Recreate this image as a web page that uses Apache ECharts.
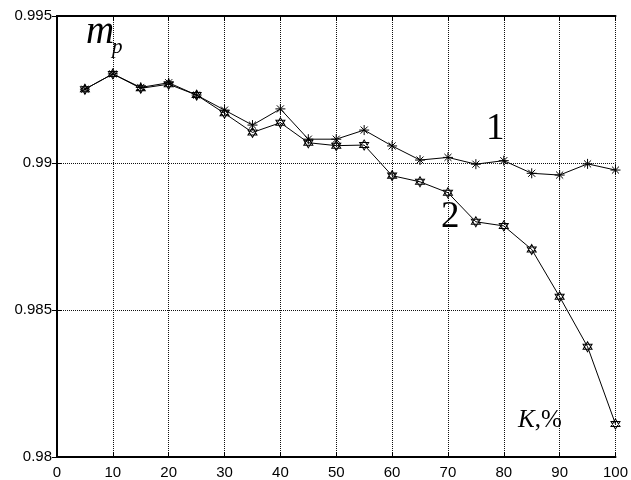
<!DOCTYPE html>
<html>
<head>
<meta charset="utf-8">
<script src="https://cdn.jsdelivr.net/npm/echarts@6/dist/echarts.min.js"></script>
<style>
  html, body { margin: 0; padding: 0; background: #fff; }
  #chart { width: 631px; height: 480px; }
</style>
</head>
<body>
<div id="chart"></div>
<script>
// Load share K (%) on the horizontal axis
const kPercent = [5, 10, 15, 20, 25, 30, 35, 40, 45, 50, 55, 60, 65, 70, 75, 80, 85, 90, 95, 100];

// Curve 1 (asterisk markers)
const curve1 = [0.99251, 0.99303, 0.99257, 0.99273, 0.99231, 0.99180, 0.99129, 0.99184, 0.99081, 0.99081,
                0.99112, 0.99058, 0.99010, 0.99019, 0.98996, 0.99008, 0.98965, 0.98959, 0.98997, 0.98976];

// Curve 2 (hexagram markers)
const curve2 = [0.99251, 0.99303, 0.99254, 0.99268, 0.99231, 0.99169, 0.99104, 0.99137, 0.99069, 0.99059,
                0.99061, 0.98957, 0.98936, 0.98899, 0.98800, 0.98786, 0.98706, 0.98545, 0.98375, 0.98112];

const xTicks = [0, 10, 20, 30, 40, 50, 60, 70, 80, 90, 100];
const yTicks = [0.98, 0.985, 0.99, 0.995];

const asterisk = 'path://M0,-10L0,10M-10,0L10,0M-7.07,-7.07L7.07,7.07M-7.07,7.07L7.07,-7.07';
const hexagram = 'path://M0,-10L8.66,5L-8.66,5ZM0,10L8.66,-5L-8.66,-5Z';

const tickFont = { fontFamily: 'Liberation Sans, Arial, sans-serif', fontSize: 15, color: '#000' };
const gridLine = { show: true, lineStyle: { color: '#111', width: 1, type: [1, 1] } };

const chart = echarts.init(document.getElementById('chart'), null, { renderer: 'canvas' });

chart.setOption({
  backgroundColor: '#fff',
  animation: false,
  grid: { left: 57, right: 14, top: 16, bottom: 23, show: false },
  xAxis: [
    {
      type: 'value', min: 0, max: 100, interval: 10, position: 'bottom',
      axisLine: { show: true, lineStyle: { color: '#000', width: 2 } },
      axisTick: { show: true, inside: true, length: 5, lineStyle: { color: '#000' } },
      axisLabel: Object.assign({ margin: 8, formatter: v => xTicks.includes(v) ? String(v) : '' }, tickFont),
      splitLine: gridLine
    },
    {
      type: 'value', min: 0, max: 100, interval: 10, position: 'top',
      axisLine: { show: true, lineStyle: { color: '#000', width: 2 } },
      axisTick: { show: true, inside: true, length: 5, lineStyle: { color: '#000' } },
      axisLabel: { show: false },
      splitLine: { show: false }
    }
  ],
  yAxis: [
    {
      type: 'value', min: 0.98, max: 0.995, interval: 0.005, position: 'left',
      axisLine: { show: true, lineStyle: { color: '#000', width: 2 } },
      axisTick: { show: true, inside: true, length: 5, lineStyle: { color: '#000' } },
      axisLabel: Object.assign({
        margin: 5,
        formatter: v => {
          const t = yTicks.find(y => Math.abs(y - v) < 1e-9);
          return t === undefined ? '' : String(t);
        }
      }, tickFont),
      splitLine: gridLine
    },
    {
      type: 'value', min: 0.98, max: 0.995, interval: 0.005, position: 'right',
      axisLine: { show: true, lineStyle: { color: '#000', width: 2 } },
      axisTick: { show: true, inside: true, length: 5, lineStyle: { color: '#000' } },
      axisLabel: { show: false },
      splitLine: { show: false }
    }
  ],
  series: [
    {
      name: '2', type: 'line', z: 3,
      data: kPercent.map((k, i) => [k, curve2[i]]),
      symbol: hexagram, symbolSize: [9, 10],
      lineStyle: { color: '#000', width: 1 },
      itemStyle: { color: '#fff', borderColor: '#000', borderWidth: 1 }
    },
    {
      name: '1', type: 'line', z: 4,
      data: kPercent.map((k, i) => [k, curve1[i]]),
      symbol: asterisk, symbolSize: [10, 10],
      lineStyle: { color: '#000', width: 1 },
      itemStyle: { color: 'none', borderColor: '#000', borderWidth: 1 }
    }
  ],
  graphic: [
    { type: 'text', left: 86, top: 13, z: 10,
      style: { text: 'm', font: 'italic 39px "Liberation Serif", "Times New Roman", serif', fill: '#000' } },
    { type: 'text', left: 112, top: 37, z: 10,
      style: { text: 'p', font: 'italic 21px "Liberation Serif", "Times New Roman", serif', fill: '#000' } },
    { type: 'text', left: 486, top: 111, z: 10,
      style: { text: '1', font: '37px "Liberation Serif", "Times New Roman", serif', fill: '#000' } },
    { type: 'text', left: 441, top: 199, z: 10,
      style: { text: '2', font: '37px "Liberation Serif", "Times New Roman", serif', fill: '#000' } },
    { type: 'text', left: 518, top: 408, z: 10,
      style: { text: '{k|K},%', fill: '#000',
        font: '25px "Liberation Serif", "Times New Roman", serif',
        rich: { k: { fontStyle: 'italic', fontSize: 25, fontFamily: '"Liberation Serif", serif' } } } }
  ]
});
</script>
</body>
</html>
